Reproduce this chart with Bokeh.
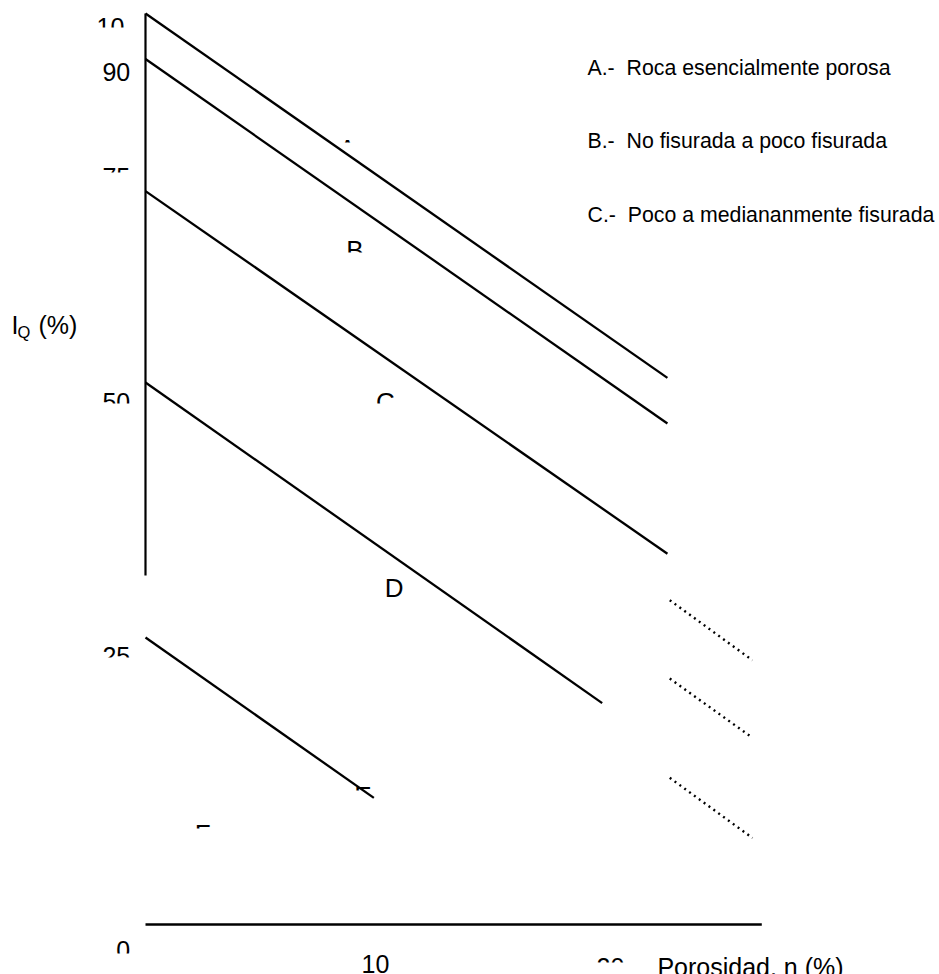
from bokeh.plotting import figure
from bokeh.models import Range1d
from bokeh.embed import file_html
from bokeh.resources import INLINE
from bokeh.core.properties import value

# ---------------- data ----------------
# boundary lines of the IQ - porosity classification (porosity n %, IQ %)
boundary_n_start = [0, 0, 0, 0, 0]
boundary_iq_start = [100, 95, 80.5, 59.5, 31.5]
boundary_n_end = [22.4, 22.4, 22.4, 19.6, 9.8]
boundary_iq_end = [60, 55, 40.7, 24.3, 13.9]

# dotted continuation strokes
dotted_n_start = [22.5, 22.5, 22.5]
dotted_iq_start = [35.6, 27.0, 16.1]
dotted_n_end = [26.05, 26.05, 26.05]
dotted_iq_end = [29.0, 20.5, 9.5]

# axis extents
iq_axis_n = [0, 0]
iq_axis_iq = [38.3, 100]
n_axis_n = [0, 26.45]
n_axis_iq = [0, 0]

zone_letters = ["A", "B", "C", "D", "E", "F"]
legend_texts = ["A.-\u00a0 Roca esencialmente porosa",
                "B.-\u00a0 No fisurada a poco fisurada",
                "C.-\u00a0 Poco a mediananmente fisurada"]
iq_tick_labels = ["10", "90", "75", "50", "25", "0"]
n_tick_labels = ["10", "20"]
n_title = "Porosidad, n (%)"

# ---------------- layout (positions in data units) ----------------
iq_tick_x = [-2.10, -1.85, -1.85, -1.85, -1.85, -1.25]
iq_tick_y = [98.57, 93.63, 82.00, 57.30, 29.42, -2.85]

n_tick_x = [9.27, 19.36]
n_tick_y = [-4.39, -4.61]
n_title_x = [21.97]
n_title_y = [-4.61]

zone_x = [8.67, 8.99, 10.30, 10.67, 9.33, 2.45]
zone_y = [85.15, 74.04, 57.40, 36.96, 14.13, 9.95]

legend_x = [18.97, 18.97, 18.97]
legend_y = [94.00, 85.98, 77.86]

# masks that reproduce the clipped text boxes of the original drawing
mask_left = [-2.19, -2.19, -2.19, -2.19, -2.19, 8.15, 8.50, 9.74, 8.80, 1.93, 19.27]
mask_right = [-0.39, -0.39, -0.39, -0.39, -0.39, 9.23, 9.57, 10.90, 9.91, 2.96, 20.82]
mask_top = [98.46, 82.55, 57.19, 29.31, -3.18, 85.84, 73.77, 57.19, 14.71, 10.54, -4.17]
mask_bottom = [96.49, 80.02, 55.32, 27.33, -6.0, 83.31, 71.79, 55.87, 12.51, 8.12, -6.0]

FONT = value("Liberation Sans")

p = figure(width=939, height=974, output_backend="svg", toolbar_location=None,
           x_range=Range1d(-6.223, 34.077), y_range=Range1d(-5.488, 101.427),
           min_border=0, min_border_left=0, min_border_right=0,
           min_border_top=0, min_border_bottom=0)
p.axis.visible = False
p.grid.visible = False
p.outline_line_color = None
p.background_fill_color = "white"
p.border_fill_color = "white"

# texts
p.text(x=iq_tick_x, y=iq_tick_y, text=iq_tick_labels, text_font=FONT,
       text_font_size="25px", text_color="black", text_align="left",
       text_baseline="alphabetic")
p.text(x=n_tick_x, y=n_tick_y, text=n_tick_labels, text_font=FONT,
       text_font_size="25px", text_color="black", text_align="left",
       text_baseline="alphabetic")
p.text(x=n_title_x, y=n_title_y, text=[n_title], text_font=FONT,
       text_font_size="25px", text_color="black", text_align="left",
       text_baseline="alphabetic")
p.text(x=zone_x, y=zone_y, text=zone_letters, text_font=FONT,
       text_font_size="26px", text_color="black", text_align="center",
       text_baseline="alphabetic")
p.text(x=legend_x, y=legend_y, text=legend_texts, text_font=FONT,
       text_font_size="21.3px", text_color="black", text_align="left",
       text_baseline="alphabetic")
# y axis title I_Q (%)
p.text(x=[-5.75], y=[65.86], text=["I"], text_font=FONT, text_font_size="25px",
       text_color="black", text_baseline="alphabetic")
p.text(x=[-5.49], y=[65.09], text=["Q"], text_font=FONT, text_font_size="16.5px",
       text_color="black", text_baseline="alphabetic")
p.text(x=[-4.59], y=[65.86], text=["(%)"], text_font=FONT, text_font_size="25px",
       text_color="black", text_baseline="alphabetic")

# clipping masks
p.quad(left=mask_left, right=mask_right, top=mask_top, bottom=mask_bottom,
       fill_color="white", line_color=None)

# axes
p.line(iq_axis_n, iq_axis_iq, line_color="black", line_width=2.2)
p.line(n_axis_n, n_axis_iq, line_color="black", line_width=2.6)

# boundary lines
p.segment(x0=boundary_n_start, y0=boundary_iq_start, x1=boundary_n_end,
          y1=boundary_iq_end, line_color="black", line_width=2.3)
p.segment(x0=dotted_n_start, y0=dotted_iq_start, x1=dotted_n_end,
          y1=dotted_iq_end, line_color="black", line_width=2.4, line_dash="2 4")

open("out.html", "w").write(file_html(p, INLINE))
